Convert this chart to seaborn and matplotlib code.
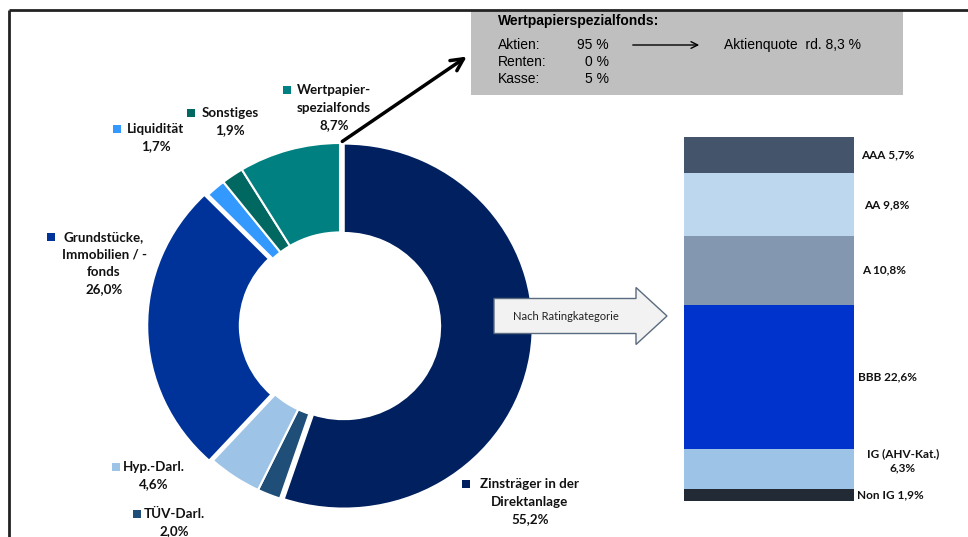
import numpy as np
import matplotlib.pyplot as plt
import matplotlib.transforms as mtransforms
from matplotlib.patches import FancyArrow, Rectangle
import seaborn as sns

sns.set_theme(style="white")
plt.rcParams['font.family'] = ['Lato', 'DejaVu Sans']

# Kapitalanlagen (Donut), im Uhrzeigersinn ab 12 Uhr
asset_classes = ["Zinsträger in der\nDirektanlage", "TÜV-Darl.", "Hyp.-Darl.",
                 "Grundstücke,\nImmobilien / -\nfonds", "Liquidität", "Sonstiges",
                 "Wertpapier-\nspezialfonds"]
asset_shares = [55.2, 2.0, 4.6, 26.0, 1.7, 1.9, 8.7]
asset_colors = ["#00205F", "#1F4E79", "#9DC3E6", "#003399", "#3399FF", "#006860", "#008080"]

# Ratingkategorien (von oben nach unten)
rating_names = ["AAA", "AA", "A", "BBB", "IG (AHV-Kat.)", "Non IG"]
rating_shares = [5.7, 9.8, 10.8, 22.6, 6.3, 1.9]
rating_colors = ["#44546A", "#BDD7EE", "#8497B0", "#0033CC", "#9DC3E6", "#222A35"]

# Wertpapierspezialfonds
fund_parts = ["Aktien:", "Renten:", "Kasse:"]
fund_pcts = [95, 0, 5]
equity_ratio = 8.3


def pct(v, sep=""):
    return f"{v:.1f}".replace(".", ",") + sep + "%"


W, H = 968, 537
fig = plt.figure(figsize=(W / 100, H / 100), dpi=100)

# donut
pax = fig.add_axes([151 / W, 1 - 508 / H, 378 / W, 365 / H])
pax.pie(asset_shares, colors=asset_colors, startangle=90, counterclock=False,
        explode=[0.02, 0, 0, 0.02, 0, 0, 0], radius=1,
        wedgeprops=dict(width=0.49, edgecolor="white", linewidth=1.5))
pax.set_aspect("auto")
pax.set_xlim(-1, 1)
pax.set_ylim(-1, 1)
pax.axis("off")

# stacked rating bar (cumulative bars, tallest first)
bax = fig.add_axes([684 / W, 1 - 501 / H, 170 / W, 364 / H])
cum_bottom_up = np.cumsum(rating_shares[::-1])
for total, color in zip(cum_bottom_up[::-1], rating_colors):
    sns.barplot(x=[0], y=[total], color=color, saturation=1, width=1,
                linewidth=0, edgecolor=color, ax=bax)
bax.set_xlim(-0.5, 0.5)
bax.set_ylim(0, cum_bottom_up[-1])
bax.axis("off")

mids = (cum_bottom_up - np.array(rating_shares[::-1]) / 2)[::-1]
label_x = [1.041, 1.059, 1.047, 1.024, 1.288, 1.018]
trans = mtransforms.blended_transform_factory(bax.transAxes, bax.transData)
for name, val, mid, lx in zip(rating_names, rating_shares, mids, label_x):
    if "(" in name:
        bax.text(lx, mid + 1.3, f"{name}\n{pct(val)}", transform=trans, ha="center",
                 va="center", fontsize=8.5, fontweight="bold", linespacing=1.3,
                 color="#111111", clip_on=False)
    else:
        bax.text(lx, mid, f"{name} {pct(val)}", transform=trans, ha="left",
                 va="center", fontsize=8.5, fontweight="bold", color="#111111",
                 clip_on=False)

# overlay in pixel coordinates
ax = fig.add_axes([0, 0, 1, 1])
ax.set_xlim(0, W)
ax.set_ylim(H, 0)
ax.axis("off")

# frame
ax.plot([9, 9], [H, 10], color="#222222", lw=2, solid_capstyle="butt")
ax.plot([9, W], [10, 10], color="#222222", lw=2, solid_capstyle="butt")

# donut labels: text centre x, first line y, marker x
label_pos = [(530, 484, 466), (174, 514, 137), (154, 467, 116), (104, 237, 51),
             (156, 129, 117), (230, 113, 191), (334, 90, 287)]
for name, val, color, (tx, ty, mx) in zip(asset_classes, asset_shares, asset_colors, label_pos):
    lines = name.split("\n") + [pct(val)]
    for i, line in enumerate(lines):
        ax.text(tx, ty + i * 17.5, line, ha="center", va="center",
                fontsize=9.6, fontweight="bold", color="#111111")
    ax.scatter([mx], [ty], marker="s", s=36, color=color, linewidths=0)

# grey info box
ax.add_patch(Rectangle((471, 11), 432, 84, facecolor="#BFBFBF", edgecolor="none"))
ax.text(498, 21, "Wertpapierspezialfonds:", ha="left", va="center",
        fontsize=10, fontweight="bold", family="Liberation Sans", color="black")
for i, (part, p) in enumerate(zip(fund_parts, fund_pcts)):
    y = 45 + i * 17
    ax.text(498, y, part, ha="left", va="center", fontsize=10,
            family="Liberation Sans", color="black")
    ax.text(609, y, f"{p} %", ha="right", va="center", fontsize=10,
            family="Liberation Sans", color="black")
ax.annotate("", xy=(702, 45), xytext=(630, 45),
            arrowprops=dict(arrowstyle="->", lw=1, color="black", mutation_scale=12))
ax.text(724, 45, "Aktienquote  rd. " + pct(equity_ratio, " "),
        ha="left", va="center", fontsize=10, family="Liberation Sans", color="black")

# arrow from the special fund slice to the box
ax.annotate("", xy=(469, 55), xytext=(340, 143),
            arrowprops=dict(arrowstyle="->", lw=2.5, color="black", mutation_scale=22))

# block arrow "Nach Ratingkategorie"
ax.add_patch(FancyArrow(494, 316, 173, 0, width=35, head_width=57, head_length=31,
                        length_includes_head=True, facecolor="#F2F2F2",
                        edgecolor="#5B6B7F", lw=1))
ax.text(566, 316, "Nach Ratingkategorie", ha="center", va="center",
        fontsize=8, color="#222222")

fig.savefig("out.png", dpi=100)
